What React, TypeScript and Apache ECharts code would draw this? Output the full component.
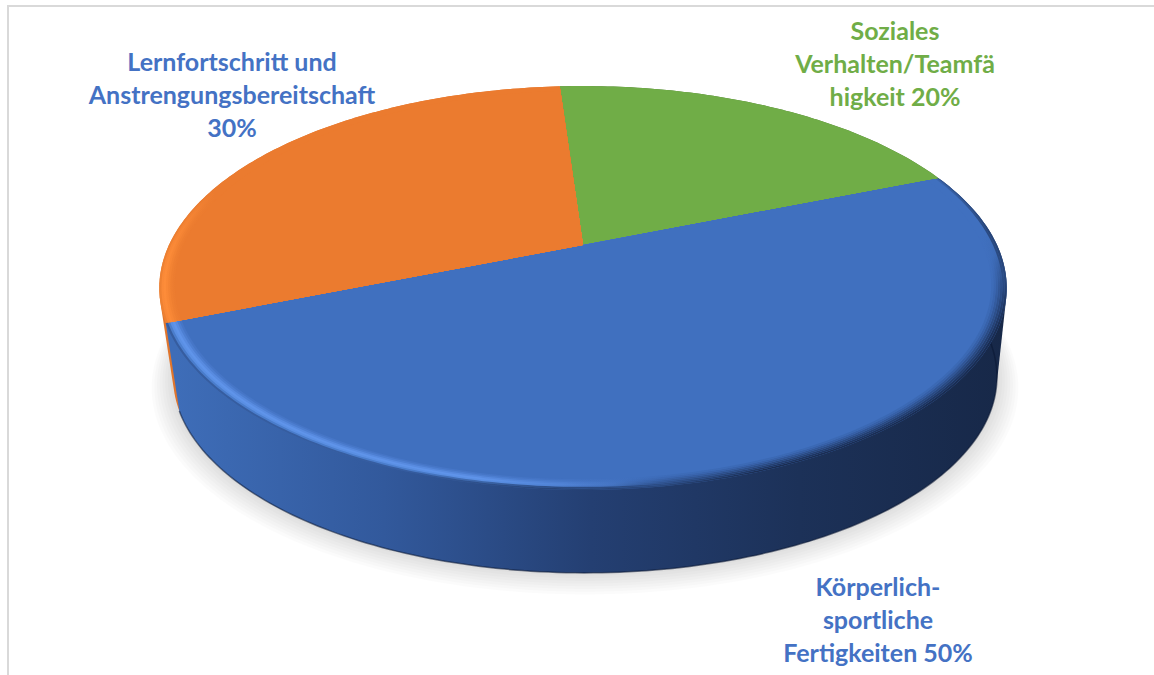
import React, { useEffect, useRef } from "react";
import * as echarts from "echarts";

const categories = ["Soziales Verhalten/Teamfähigkeit", "Körperlich-sportliche Fertigkeiten", "Lernfortschritt und Anstrengungsbereitschaft"];
const values = [20, 50, 30];
const faceColors = ["#70ad47", "#4070bf", "#eb7b2f"];
const labelColors = ["#70ad47", "#4472c4", "#4472c4"];
const labelLines = [
  ["Soziales", "Verhalten/Teamfä", "higkeit 20%"],
  ["Körperlich-", "sportliche", "Fertigkeiten 50%"],
  ["Lernfortschritt und", "Anstrengungsbereitschaft", "30%"],
];
const labelPos = [
  { x: 895, y: 30 },
  { x: 878, y: 586 },
  { x: 232, y: 61 },
];

const START_DEG = -3.9;
const P = -0.2129;
const TOP = { x0: 583, y0: 245, A: 414, B: 192.8 };
const BOTTOM = { x0: 585, y0: 335.3, A: 402.5, B: 187 };

type H = { x0: number; y0: number; A: number; B: number };
const project = (deg: number, r: number, h: H): number[] => {
  const a = (deg * Math.PI) / 180;
  const u = r * Math.sin(a);
  const v = -r * Math.cos(a);
  const w = 1 + P * v;
  return [h.x0 + (h.A * u) / w, h.y0 + (h.B * v) / w];
};
const arc = (from: number, to: number, r: number, h: H): number[][] => {
  const n = Math.max(2, Math.ceil(Math.abs(to - from)));
  const pts: number[][] = [];
  for (let i = 0; i <= n; i++) pts.push(project(from + ((to - from) * i) / n, r, h));
  return pts;
};
const hull = (input: number[][]): number[][] => {
  const pts = [...input].sort((a, b) => a[0] - b[0] || a[1] - b[1]);
  const cross = (o: number[], a: number[], b: number[]) => (a[0] - o[0]) * (b[1] - o[1]) - (a[1] - o[1]) * (b[0] - o[0]);
  const half = (list: number[][]) => {
    const out: number[][] = [];
    for (const p of list) {
      while (out.length >= 2 && cross(out[out.length - 2], out[out.length - 1], p) <= 0) out.pop();
      out.push(p);
    }
    out.pop();
    return out;
  };
  return [...half(pts), ...half([...pts].reverse())];
};
const total = values.reduce((a, b) => a + b, 0);
const sliceRange = (i: number): [number, number] => {
  const before = values.slice(0, i).reduce((a, b) => a + b, 0);
  return [START_DEG + (before / total) * 360, START_DEG + ((before + values[i]) / total) * 360];
};

const hex = (c: string) => [1, 3, 5].map((i) => parseInt(c.slice(i, i + 2), 16));
const alpha = (c: string, a: number) => "rgba(" + hex(c).join(",") + "," + a + ")";

const RIM_R = [1, 0.995, 0.99, 0.985, 0.98, 0.975, 0.97, 0.965];
const BLUE_LIGHT = ["#3f6dba", "#4a7dcc", "#5a8fe3", "#5f94ea", "#588be0", "#4d7fd2", "#4676c7", "#4070bf"];
const BLUE_DARK = ["#1a2d52", "#1e3560", "#243f70", "#2a4a82", "#305595", "#3660a8", "#3b69b4", "#4070bf"];
const ORANGE_RIM = ["#ee8132", "#fb8a38", "#ff8e3a", "#fb8a37", "#f58534", "#f08031", "#ed7d30", "#eb7b2f"];

const blueRim = (k: number) => ({
  type: "linear", global: true, x: 480, y: 0, x2: 660, y2: 0,
  colorStops: [
    { offset: 0, color: BLUE_LIGHT[k] },
    { offset: 1, color: "#4070bf" },
  ],
});
const blueShade = (k: number) => {
  const back = k < 2 ? 0.65 : 0;
  return {
    type: "linear", global: true, x: 0, y: 500, x2: 190, y2: 816,
    colorStops: [
      { offset: 0, color: alpha(BLUE_DARK[k], k < 1 ? 0.25 : 0) },
      { offset: 0.5, color: alpha(BLUE_DARK[k], k < 1 ? 0.25 : 0) },
      { offset: 0.75, color: alpha(BLUE_DARK[k], back) },
      { offset: 0.82, color: alpha(BLUE_DARK[k], Math.max(back, 0.1)) },
      { offset: 0.89, color: alpha(BLUE_DARK[k], 0.6) },
      { offset: 0.95, color: alpha(BLUE_DARK[k], 0.85) },
      { offset: 1, color: alpha(BLUE_DARK[k], 1) },
    ],
  };
};
const orangeRim = (k: number) => ({
  type: "linear", global: true, x: 160, y: 0, x2: 215, y2: 0,
  colorStops: [
    { offset: 0, color: ORANGE_RIM[k] },
    { offset: 1, color: "#eb7b2f" },
  ],
});
const blueWall = {
  type: "linear", global: true, x: 176, y: 0, x2: 1007, y2: 0,
  colorStops: [
    { offset: 0, color: "#3e6db8" },
    { offset: 0.25, color: "#32599c" },
    { offset: 0.5, color: "#243f72" },
    { offset: 0.75, color: "#1c3158" },
    { offset: 1, color: "#172848" },
  ],
};
const wallFill = ["#4f7a33", blueWall, "#e0752c"];
const wallOrder = [0, 2, 1];

const App = () => {
  const ref = useRef<HTMLDivElement>(null);
  useEffect(() => {
    const chart = echarts.init(ref.current as HTMLDivElement, undefined, { renderer: "svg" });
    const renderShadow = (params: any) => {
      if (params.dataIndex !== 0) return { type: "group", children: [] };
      const children: any[] = [];
      for (let k = 8; k >= 1; k--) {
        const pts = arc(0, 360, 1 + k * 0.0062, { ...BOTTOM, y0: BOTTOM.y0 + k * 0.8 });
        children.push({ type: "polygon", shape: { points: pts }, style: { fill: "rgba(0,0,0,0.017)" } });
      }
      return { type: "group", children };
    };
    const renderWall = (params: any) => {
      const i = params.dataIndex;
      const [a, b] = sliceRange(i);
      const children: any[] = [
        {
          type: "polygon",
          z2: wallOrder[i],
          shape: { points: hull([...arc(a, b, 1, TOP), ...arc(a, b, 1, BOTTOM)]) },
          style: { fill: wallFill[i] },
        },
      ];
      if (i === 1) {
        children.push({
          type: "polyline",
          z2: 5,
          shape: { points: arc(a, b, 1, BOTTOM) },
          style: { fill: "none", stroke: "rgba(10,22,50,0.55)", lineWidth: 1.5 },
        });
      }
      return { type: "group", children };
    };
    const renderFace = (params: any) => {
      const i = params.dataIndex;
      const [a, b] = sliceRange(i);
      const apex = project(0, 0, TOP);
      const children: any[] = [];
      if (i === 0) {
        children.push({ type: "polygon", shape: { points: [apex, ...arc(a, b, 1, TOP)] }, style: { fill: faceColors[i] } });
      } else {
        RIM_R.forEach((r, k) => {
          const last = k === RIM_R.length - 1;
          const points = [apex, ...arc(a, b, r, TOP)];
          children.push({
            type: "polygon",
            shape: { points },
            style: { fill: last ? faceColors[i] : i === 1 ? blueRim(k) : orangeRim(k) },
          });
          if (i === 1 && !last) {
            children.push({ type: "polygon", shape: { points }, style: { fill: blueShade(k) } });
          }
        });
      }
      labelLines[i].forEach((line, l) => {
        children.push({
          type: "text",
          style: {
            text: line,
            x: labelPos[i].x,
            y: labelPos[i].y + l * 33,
            align: "center",
            verticalAlign: "middle",
            fill: labelColors[i],
            font: 'bold 25px Lato, "Noto Sans", sans-serif',
          },
        });
      });
      return { type: "group", children };
    };
    const data = values.map((v, i) => ({ name: categories[i], value: v }));
    chart.setOption({
      animation: false,
      backgroundColor: "#ffffff",
      graphic: [
        { type: "line", shape: { x1: 8, y1: 6, x2: 8, y2: 675 }, style: { stroke: "#d9d9d9", lineWidth: 2 } },
        { type: "line", shape: { x1: 7, y1: 6, x2: 1154, y2: 6 }, style: { stroke: "#d9d9d9", lineWidth: 2 } },
      ],
      series: [
        { type: "custom", coordinateSystem: "none", silent: true, z: 1, data, renderItem: renderShadow },
        { type: "custom", coordinateSystem: "none", silent: true, z: 2, data, renderItem: renderWall },
        { type: "custom", coordinateSystem: "none", silent: true, z: 3, data, renderItem: renderFace },
      ],
    });
    return () => chart.dispose();
  }, []);
  return <div ref={ref} style={{ position: "absolute", left: 0, top: 0, width: 1154, height: 675 }} />;
};

export default App;
